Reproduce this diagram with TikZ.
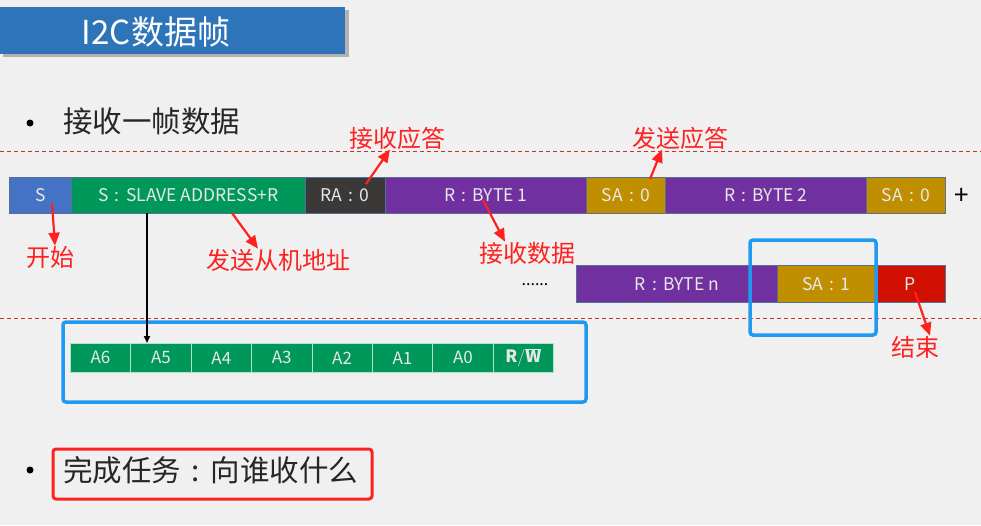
\documentclass[tikz,border=0pt]{standalone}
\usepackage{fontspec}
\setmainfont{Noto Sans CJK SC}
\usetikzlibrary{arrows.meta,calc}
\definecolor{bgc}{HTML}{F0F0F0}
\definecolor{titleblue}{HTML}{2E74B8}
\definecolor{sblue}{HTML}{4472C4}
\definecolor{sgreen}{HTML}{00985A}
\definecolor{sgray}{HTML}{3B3838}
\definecolor{spurple}{HTML}{7030A0}
\definecolor{sgold}{HTML}{BF8F00}
\definecolor{sred}{HTML}{D01000}
\definecolor{segtext}{HTML}{E8E8E8}
\definecolor{segborder}{HTML}{5A7090}
\definecolor{hlblue}{HTML}{1E9BF0}
\definecolor{annred}{HTML}{FF2020}
\definecolor{dashred}{HTML}{C83030}
\newcommand{\cc}{\makebox[1.0em]{:}}
\tikzset{
  seg/.style={draw=segborder, line width=0.5pt, minimum height=36pt, inner sep=0pt,
    anchor=north west, text=segtext, font=\fontsize{17.5}{17.5}\selectfont},
  bit/.style={draw=white!70!sgreen, line width=0.6pt, fill=sgreen, minimum height=29pt,
    minimum width=60.4pt, inner sep=0pt, anchor=north west, text=segtext,
    font=\fontsize{17}{17}\selectfont},
  ann/.style={text=annred, font=\fontsize{24}{24}\selectfont, inner sep=0pt},
  annarrow/.style={draw=annred, line width=2.2pt, -{Triangle[length=13pt,width=11pt]}},
  dashline/.style={draw=dashred, line width=0.6pt, dash pattern=on 4pt off 3pt},
  hlbox/.style={draw=hlblue, line width=3.5pt, rounded corners=3pt},
  redbox/.style={draw=annred, line width=3pt, rounded corners=3pt},
  bullet/.style={circle, fill=black, inner sep=0pt, minimum size=7pt},
  body/.style={text=black!85, font=\fontsize{29.5}{29.5}\selectfont, inner sep=0pt, anchor=west}
}
\begin{document}
\begin{tikzpicture}[x=1pt,y=-1pt]
\fill[bgc] (0,0) rectangle (981,525);
\useasboundingbox (0,0) rectangle (981,525);
% title
\fill[black!30] (3,10) rectangle (349,57);
\fill[titleblue] (0,7) rectangle (345,54);
\node[text=white, font=\fontsize{33}{33}\selectfont, inner sep=0pt] (title) at (156,32) {I2C数据帧};
% bullet 1
\node[bullet] (b1) at (30,123) {};
\node[body] (t1) at (63,121) {接收一帧数据};
% dashed lines
\draw[dashline] (0,151) -- (981,151);
\draw[dashline] (0,318) -- (981,318);
% row 1
\node[seg, fill=sblue, minimum width=62pt] (S) at (9,177) {S};
\node[seg, fill=sgreen, minimum width=234pt] (SAD) at (71,177) {S\cc SLAVE ADDRESS+R};
\node[seg, fill=sgray, minimum width=80pt] (RA) at (305,177) {RA\cc 0};
\node[seg, fill=spurple, minimum width=201pt] (B1) at (385,177) {R\cc BYTE 1};
\node[seg, fill=sgold, minimum width=79pt] (SA1) at (586,177) {SA\cc 0};
\node[seg, fill=spurple, minimum width=201pt] (B2) at (665,177) {R\cc BYTE 2};
\node[seg, fill=sgold, minimum width=79pt] (SA2) at (866,177) {SA\cc 0};
\node[font=\fontsize{26}{26}\selectfont, inner sep=0pt] (plus) at (962,196) {+};
% row 2
\node[font=\fontsize{16}{16}\selectfont, inner sep=0pt] (dots) at (535,285) {......};
\node[seg, fill=spurple, minimum width=201pt, minimum height=37pt] (Bn) at (576,265) {R\cc BYTE n};
\node[seg, fill=sgold, minimum width=98pt, minimum height=37pt] (SAn) at (777,265) {SA\cc 1};
\node[seg, fill=sred, minimum width=70pt, minimum height=37pt] (P) at (875,265) {P};
\draw[hlbox] (750,240) rectangle (876,335);
% bits
\foreach \lab [count=\i from 0] in {A6,A5,A4,A3,A2,A1,A0} {
  \node[bit] (bit\i) at ({70+60.4*\i},343) {\lab};
}
\node[bit] (bit7) at ({70+60.4*7},343) {$\mathbf{R/\overline{W}}$};
\draw[hlbox] (63,322) rectangle (586,402);
% address arrow
\coordinate (vtop) at (147,213);
\draw[black, line width=1.8pt, -{Triangle[length=7pt,width=6pt]}] (vtop) -- (vtop |- bit1.north);
% annotations
\node[ann] (kaishi) at (50,257) {开始};
\node[ann] (fasong) at (278,260) {发送从机地址};
\node[ann] (jsyd) at (397,138) {接收应答};
\node[ann] (fsyd) at (680,138) {发送应答};
\node[ann] (jssj) at (527,253) {接收数据};
\node[ann] (jieshu) at (915,347) {结束};
\coordinate (a1) at (52,203);
\coordinate (a2) at (232,213);
\coordinate (a3) at (366,184);
\coordinate (a4) at (650,179);
\coordinate (a5) at (483,200);
\coordinate (a6) at (915,292);
\draw[annarrow] (a1) -- (kaishi.north -| 55,0);
\draw[annarrow] (a2) -- ($(fasong.north)+(-20,0)$);
\draw[annarrow] (a3) -- ($(jsyd.south)+(-7,0)$);
\draw[annarrow] (a4) -- ($(fsyd.south)+(-18,0)$);
\draw[annarrow] (a5) -- ($(jssj.north)+(-22,0)$);
\draw[annarrow] (a6) -- ($(jieshu.north)+(15,0)$);
% bullet 2
\node[bullet] (b2) at (30,470) {};
\draw[redbox] (53,449) rectangle (372,499);
\node[body] (t2) at (63,470) {完成任务\makebox[1em]{:}向谁收什么};
\end{tikzpicture}
\end{document}
